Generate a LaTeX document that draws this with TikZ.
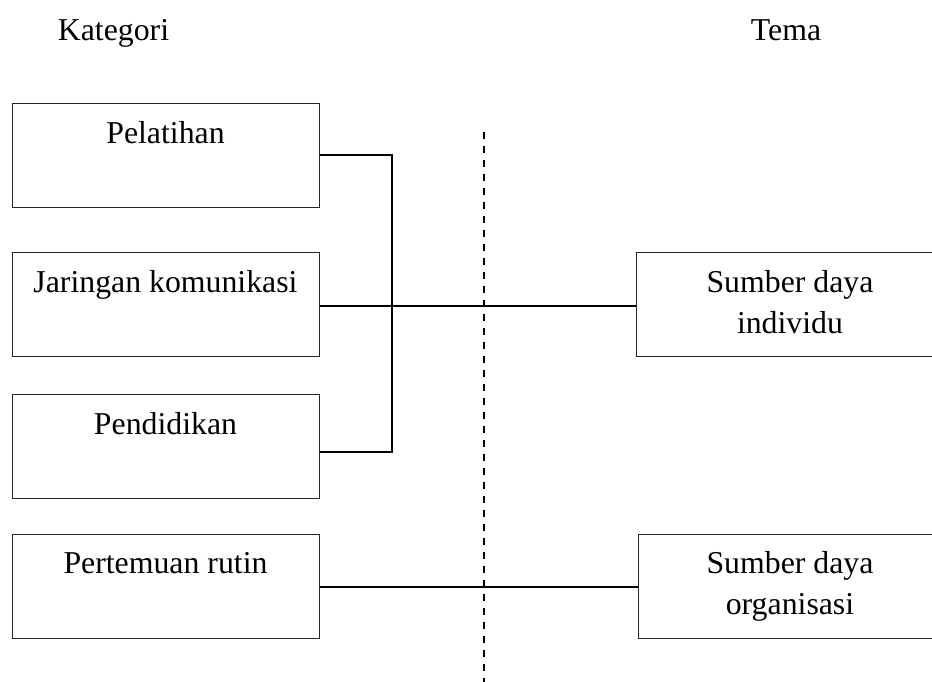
\documentclass[tikz,border=0pt]{standalone}
\usepackage{fontspec}
\setmainfont{Liberation Serif}
\begin{document}
\begin{tikzpicture}[
  x=0.75pt, y=-0.75pt,
  every node/.style={font=\fontsize{23.85}{30.75}\selectfont, inner sep=0pt},
  catbox/.style={draw=black!85, line width=0.9pt, minimum width=230.25pt,
                 minimum height=78pt, anchor=north west},
  temabox/.style={draw=black!85, line width=0.9pt, minimum width=231pt,
                  minimum height=78pt, anchor=north west},
  label text/.style={anchor=base, align=center},
  link/.style={draw=black, line width=1.4pt},
  divider/.style={draw=black, line width=1.1pt, dash pattern=on 5.25pt off 5.25pt}
]
\clip (0,0) rectangle (932,682);

% column headings
\node[label text] (hkat) at (113.5,40) {Kategori};
\node[label text] (htema) at (786,40) {Tema};

% category boxes
\node[catbox] (pel) at (12,103) {};
\node[catbox] (jar) at (12,252) {};
\node[catbox] (pen) at (12,394) {};
\node[catbox] (per) at (12,534) {};
\node[label text] (tpel) at (165.5,143) {Pelatihan};
\node[label text] (tjar) at (165.5,292) {Jaringan komunikasi};
\node[label text] (tpen) at (165.5,434) {Pendidikan};
\node[label text] (tper) at (165.5,573) {Pertemuan rutin};

% theme boxes (the base anchor sits on the last line of a two-line label)
\node[temabox] (sdi) at (636,252) {};
\node[temabox] (sdo) at (638,534) {};
\node[label text] (tsdi) at (790,333) {Sumber daya\\individu};
\node[label text] (tsdo) at (790,614) {Sumber daya\\organisasi};

% dashed divider between the two columns
\coordinate (divtop) at (484,132);
\coordinate (divbot) at (484,690);
\draw[divider] (divtop) -- (divbot);

% bracket joining the first three categories
\coordinate (bustop) at (392,155);
\coordinate (busbot) at (392,452);
\draw[link] (pel.east |- bustop) -- (bustop) -- (busbot) -- (pen.east |- busbot);

% links to the themes
\coordinate (jarlink) at (392,306);
\draw[link] (jar.east |- jarlink) -- (sdi.west |- jarlink);
\draw[link] (per.east) -- (sdo.west);
\end{tikzpicture}
\end{document}
